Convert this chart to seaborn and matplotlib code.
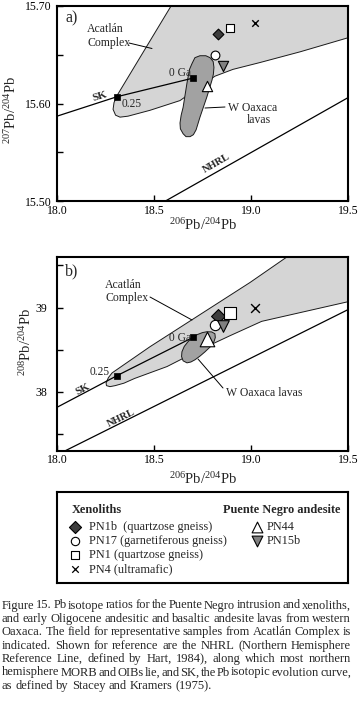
import numpy as np
import pandas as pd
import matplotlib
matplotlib.use("Agg")
import matplotlib.pyplot as plt
import seaborn as sns

# ---------------- data ----------------
samples = ["PN1b", "PN17", "PN1", "PN4", "PN44", "PN15b"]
sample_desc = ["PN1b  (quartzose gneiss)", "PN17 (garnetiferous gneiss)",
               "PN1 (quartzose gneiss)", "PN4 (ultramafic)", "PN44", "PN15b"]
pb206 = [18.832, 18.815, 18.89, 19.02, 18.775, 18.857]
pb207 = [15.671, 15.650, 15.677, 15.683, 15.618, 15.638]
pb208 = [38.905, 38.798, 38.937, 39.00, 38.627, 38.78]

# Stacey & Kramers evolution curve
sk_labels = ["0 Ga", "0.25"]
sk_206 = [18.70, 18.31]
sk_207 = [15.626, 15.607]
sk_208 = [38.646, 38.194]
sk_line_206 = [18.0, 18.31, 18.70]
sk_line_207 = [15.587, 15.607, 15.626]
sk_line_208 = [37.818, 38.194, 38.646]

# Northern Hemisphere Reference Line
nhrl_206 = [18.0, 19.5]
nhrl_207 = [15.437, 15.606]
nhrl_208 = [37.254, 38.976]

# Acatlan Complex field
acat_a_x = [18.603, 19.51, 19.51, 19.253, 19.046, 18.907, 18.814, 18.727, 18.634,
            18.479, 18.366, 18.325, 18.302, 18.289, 18.294, 18.309]
acat_a_y = [15.705, 15.705, 15.668, 15.653, 15.642, 15.635, 15.628, 15.616, 15.603,
            15.593, 15.587, 15.586, 15.588, 15.594, 15.601, 15.608]
acat_b_x = [19.191, 19.51, 19.51, 19.055, 18.892, 18.737, 18.567, 18.40, 18.345,
            18.30, 18.273, 18.255, 18.253, 18.265, 18.284, 18.479, 18.737, 18.995]
acat_b_y = [39.61, 39.61, 39.075, 38.837, 38.667, 38.50, 38.301, 38.16, 38.104,
            38.075, 38.063, 38.075, 38.107, 38.17, 38.226, 38.536, 38.917, 39.298]

# W Oaxaca lavas field
oax_a_x = [18.711, 18.737, 18.767, 18.789, 18.805, 18.809, 18.806, 18.799, 18.773,
           18.737, 18.717, 18.703, 18.686, 18.665, 18.650, 18.636, 18.634, 18.640,
           18.650, 18.670, 18.683, 18.696]
oax_a_y = [15.647, 15.649, 15.649, 15.647, 15.643, 15.637, 15.630, 15.624, 15.607,
           15.586, 15.573, 15.568, 15.566, 15.566, 15.569, 15.574, 15.580, 15.588,
           15.596, 15.621, 15.635, 15.641]
oax_b_x = [18.650, 18.642, 18.644, 18.656, 18.675, 18.697, 18.722, 18.750, 18.773,
           18.797, 18.814, 18.816, 18.809, 18.790, 18.763, 18.737, 18.711, 18.690, 18.670]
oax_b_y = [38.369, 38.42, 38.476, 38.54, 38.595, 38.645, 38.679, 38.704, 38.714,
           38.712, 38.690, 38.645, 38.595, 38.535, 38.476, 38.425, 38.381, 38.355, 38.345]

# plot styles per sample
mk = {"PN1b": "D", "PN17": "o", "PN1": "s", "PN4": "x", "PN44": "^", "PN15b": "v"}
fc = {"PN1b": "#3d3d3d", "PN17": "white", "PN1": "white", "PN4": "black",
      "PN44": "white", "PN15b": "#808080"}
size_a = {"PN1b": 30, "PN17": 40, "PN1": 40, "PN4": 22, "PN44": 55, "PN15b": 55}
size_b = {"PN1b": 50, "PN17": 55, "PN1": 75, "PN4": 40, "PN44": 110, "PN15b": 70}

caption = [
    "Figure 15. Pb isotope ratios for the Puente Negro intrusion and xenoliths,",
    "and early Oligocene andesitic and basaltic andesite lavas from western",
    "Oaxaca. The field for representative samples from Acatlán Complex is",
    "indicated. Shown for reference are the NHRL (Northern Hemisphere",
    "Reference Line, defined by Hart, 1984), along which most northern",
    "hemisphere MORB and OIBs lie, and SK, the Pb isotopic evolution curve,",
    "as defined by Stacey and Kramers (1975).",
]

# ---------------- style ----------------
sns.set_style("ticks")
plt.rcParams['font.family'] = ['Liberation Serif', 'DejaVu Serif']
plt.rcParams['mathtext.fontset'] = 'custom'
plt.rcParams['mathtext.rm'] = 'Liberation Serif'
plt.rcParams['mathtext.it'] = 'Liberation Serif:italic'
plt.rcParams['mathtext.bf'] = 'Liberation Serif:bold'

W, H = 360, 701
fig = plt.figure(figsize=(W / 100, H / 100), dpi=100)
fig.patch.set_facecolor('white')


def fx(px):
    return px / W


def fy(py):
    return 1 - py / H


ax_a = fig.add_axes([fx(57), fy(201), fx(348) - fx(57), fy(6) - fy(201)])
ax_b = fig.add_axes([fx(57), fy(451), fx(348) - fx(57), fy(257) - fy(451)])

df = pd.DataFrame({"sample": samples, "pb206": pb206, "pb207": pb207, "pb208": pb208})


def style_axis(ax):
    for s in ax.spines.values():
        s.set_linewidth(1.5)
        s.set_color('black')
    ax.tick_params(direction='in', length=4.5, width=1.0, labelsize=8.5,
                   colors='black', top=False, right=False)


def draw_panel(ax, ycol, sk_y, sk_line_y, nhrl_y, acat_x, acat_y, oax_x, oax_y, sizes):
    ax.fill(acat_x, acat_y, facecolor='#d5d5d5', edgecolor='#1a1a1a', lw=0.7, zorder=1)
    ax.fill(oax_x, oax_y, facecolor='#a2a2a2', edgecolor='#1a1a1a', lw=0.7, zorder=2)
    sns.lineplot(x=sk_line_206, y=sk_line_y, ax=ax, color='black', lw=0.9,
                 sort=False, estimator=None, zorder=3)
    sns.lineplot(x=nhrl_206, y=nhrl_y, ax=ax, color='black', lw=0.9,
                 sort=False, estimator=None, zorder=3)
    sns.scatterplot(x=sk_206, y=sk_y, ax=ax, marker='s', s=16, color='black',
                    edgecolor='black', linewidth=0.5, zorder=6, legend=False)
    for _, r in df.iterrows():
        n = r["sample"]
        if mk[n] == 'x':
            sns.scatterplot(x=[r.pb206], y=[r[ycol]], ax=ax, marker='x', s=sizes[n],
                            color='black', linewidth=1.0, zorder=7, legend=False)
        else:
            sns.scatterplot(x=[r.pb206], y=[r[ycol]], ax=ax, marker=mk[n], s=sizes[n],
                            color=fc[n], edgecolor='black', linewidth=0.8,
                            zorder=7, legend=False)


# ---- panel a ----
draw_panel(ax_a, "pb207", sk_207, sk_line_207, nhrl_207, acat_a_x, acat_a_y,
           oax_a_x, oax_a_y, size_a)
ax_a.set_xlim(18.0, 19.5)
ax_a.set_ylim(15.50, 15.70)
ax_a.set_xticks([18.0, 18.5, 19.0, 19.5])
ax_a.set_xticklabels(["18.0", "18.5", "19.0", "19.5"])
ax_a.set_yticks([15.50, 15.55, 15.60, 15.65, 15.70])
ax_a.set_yticklabels(["15.50", "", "15.60", "", "15.70"])
style_axis(ax_a)
ax_a.tick_params(axis='x', pad=3)
ax_a.tick_params(axis='y', pad=4)
ax_a.set_xlabel(r'$^{206}$Pb/$^{204}$Pb', fontsize=10.5)
ax_a.set_ylabel(r'$^{207}$Pb/$^{204}$Pb', fontsize=10.5)
ax_a.xaxis.set_label_coords((203 - 57) / 291, -(217 - 201) / 195)
ax_a.yaxis.set_label_coords(-(57 - 19) / 291, (201 - 110) / 195)

# ---- panel b ----
draw_panel(ax_b, "pb208", sk_208, sk_line_208, nhrl_208, acat_b_x, acat_b_y,
           oax_b_x, oax_b_y, size_b)
ax_b.set_xlim(18.0, 19.5)
ax_b.set_ylim(37.3, 39.6)
ax_b.set_xticks([18.0, 18.5, 19.0, 19.5])
ax_b.set_xticklabels(["18.0", "18.5", "19.0", "19.5"])
ax_b.set_yticks([37.5, 38.0, 38.5, 39.0, 39.5])
ax_b.set_yticklabels(["", "38", "", "39", ""])
style_axis(ax_b)
ax_b.tick_params(axis='x', pad=2)
ax_b.tick_params(axis='y', pad=7)
ax_b.set_xlabel(r'$^{206}$Pb/$^{204}$Pb', fontsize=10.5)
ax_b.set_ylabel(r'$^{208}$Pb/$^{204}$Pb', fontsize=10.5)
ax_b.xaxis.set_label_coords((203 - 57) / 291, -(471 - 451) / 194)
ax_b.yaxis.set_label_coords(-(57 - 34) / 291, (451 - 342) / 194)

# ---- annotations (figure pixel positions) ----
def ftext(px, py, s, **kw):
    kw.setdefault('fontsize', 8.5)
    kw.setdefault('va', 'center')
    return fig.text(fx(px), fy(py), s, **kw)


def fline(p0, p1):
    fig.add_artist(plt.Line2D([fx(p0[0]), fx(p1[0])], [fy(p0[1]), fy(p1[1])],
                              color='black', lw=0.7, transform=fig.transFigure, zorder=8))


# panel a
ftext(72, 18, "a)", fontsize=11.5, ha='center')
ftext(87, 29, "Acatlán", ha='left')
ftext(87, 43, "Complex", ha='left')
fline((129, 43), (152, 48.5))
ftext(228, 108, "W Oaxaca", ha='left')
ftext(247, 120, "lavas", ha='left')
fline((205, 108), (225, 107))
ftext(191, 73, "0 Ga", ha='right', fontsize=8.3)
ftext(122, 104, "0.25", ha='left', fontsize=8.3)
ftext(99.5, 96.5, "SK", ha='center', rotation=17, fontsize=8, fontweight='bold')
ftext(216, 163, "NHRL", ha='center', rotation=30, fontsize=7.5, fontweight='bold')

# panel b
ftext(72, 271, "b)", fontsize=11.5, ha='center')
ftext(105, 285, "Acatlán", ha='left')
ftext(105, 298, "Complex", ha='left')
fline((150, 297), (192, 320))
ftext(226, 393, "W Oaxaca lavas", ha='left')
fline((198, 359), (223, 388))
ftext(191, 338, "0 Ga", ha='right', fontsize=8.3)
ftext(110, 372, "0.25", ha='right', fontsize=8.3)
ftext(83, 389, "SK", ha='center', rotation=28, fontsize=8, fontweight='bold')
ftext(121, 418, "NHRL", ha='center', rotation=26, fontsize=7.5, fontweight='bold')

# ---- legend box ----
ax_l = fig.add_axes([fx(57), fy(583), fx(348) - fx(57), fy(492) - fy(583)])
ax_l.set_xlim(57, 348)
ax_l.set_ylim(583, 492)
ax_l.set_xticks([])
ax_l.set_yticks([])
for s in ax_l.spines.values():
    s.set_linewidth(1.5)
    s.set_color('black')
ax_l.set_facecolor('white')

ax_l.text(72, 510, "Xenoliths", fontsize=8.8, fontweight='bold', va='center', ha='left')
ax_l.text(223, 510, "Puente Negro andesite", fontsize=8.8, fontweight='bold',
          va='center', ha='left')
leg_size = {"PN1b": 38, "PN17": 36, "PN1": 40, "PN4": 22, "PN44": 60, "PN15b": 60}
rows_left = [527, 541, 555, 569]
rows_right = [527, 541]
for i, n in enumerate(samples):
    if i < 4:
        mx, tx, yy = 75, 89, rows_left[i]
    else:
        mx, tx, yy = 257, 267, rows_right[i - 4]
    if mk[n] == 'x':
        ax_l.scatter([mx], [yy], marker='x', s=leg_size[n], color='black', linewidths=0.9)
    else:
        ax_l.scatter([mx], [yy], marker=mk[n], s=leg_size[n], facecolor=fc[n],
                     edgecolor='black', linewidths=0.8)
    ax_l.text(tx, yy, sample_desc[i], fontsize=8.8, va='center', ha='left')

# ---- justified caption ----
renderer = fig.canvas.get_renderer()
cap_size = 9.0
x0, x1 = 2.0, 351.0
y0, dy = 605.5, 13.4
tmp = fig.text(0, 0, "a a", fontsize=cap_size)
tmp2 = fig.text(0, 0, "aa", fontsize=cap_size)
space_px = tmp.get_window_extent(renderer).width - tmp2.get_window_extent(renderer).width
tmp.remove()
tmp2.remove()
for i, line in enumerate(caption):
    words = line.split(' ')
    y = fy(y0 + i * dy)
    ts = [fig.text(0, y, w, fontsize=cap_size, va='center', ha='left') for w in words]
    ws = [t.get_window_extent(renderer).width for t in ts]
    if i == len(caption) - 1:
        gap = space_px
    else:
        gap = (x1 - x0 - sum(ws)) / (len(words) - 1)
    x = x0
    for t, w in zip(ts, ws):
        t.set_x(x / W)
        x += w + gap

fig.savefig("out.png", dpi=100)
